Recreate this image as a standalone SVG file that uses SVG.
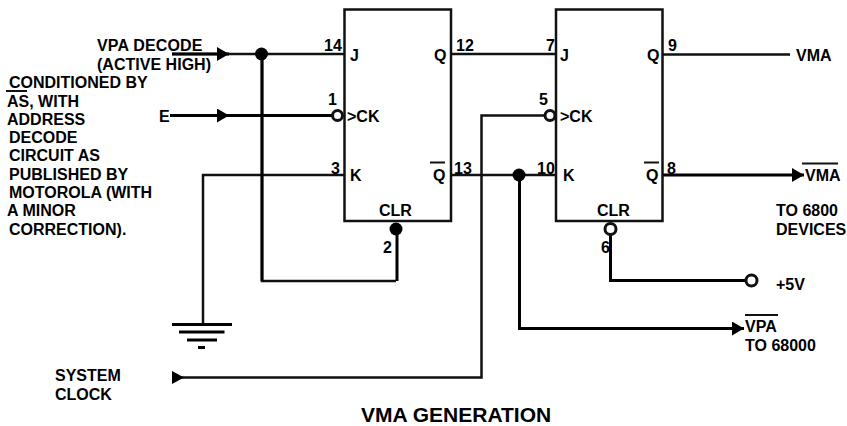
<svg xmlns="http://www.w3.org/2000/svg" width="847" height="426" viewBox="0 0 847 426">
<style>
text{font-family:"Liberation Sans",Arial,sans-serif;font-weight:700;font-size:16px;fill:#000}
.w{fill:none;stroke:#111;stroke-width:2.5}
.t{fill:none;stroke:#000;stroke-width:3}
.b{fill:#fff;stroke:#111;stroke-width:3}
.d{fill:#000}
.o{stroke:#111;stroke-width:2;fill:none}
</style>
<defs><marker id="a" markerUnits="userSpaceOnUse" markerWidth="13" markerHeight="14" refX="12" refY="7" orient="auto"><path d="M0 0L12 7L0 14Z" fill="#000"/></marker></defs>
<g id="connectors">
<path class="w" d="M172 54H344M451 54H556M663 54.500H790M203 324V175H344M451 175H556M262 54V281H396"/>
<path class="t" d="M172 54H229" marker-end="url(#a)"/>
<path class="t" d="M170 115.500H229" marker-end="url(#a)"/>
<path class="t" d="M229 115.500H333"/>
<path class="t" d="M262 54V281M397 281V232"/>
<path class="w" d="M172 377.500H481.500V115.500H545"/>
<path class="t" d="M519.500 175V328.500H744" marker-end="url(#a)"/>
<path class="t" d="M663 175H804" marker-end="url(#a)"/>
<path class="t" d="M610.500 234V280.500H747"/>
</g>
<g id="ff1"><rect class="w" x="344.500" y="9.500" width="106.500" height="211.500"/>
<text x="350" y="61">J</text><text x="434" y="61">Q</text><text x="347" y="122">&gt;CK</text><text x="350" y="181">K</text><text x="433" y="181">Q</text><path class="o" d="M430 162.500H445"/><text x="379" y="216">CLR</text>
<text x="324" y="51">14</text><text x="328" y="105">1</text><text x="331" y="174">3</text><text x="456" y="51">12</text><text x="454" y="174">13</text><text x="383" y="253">2</text></g>
<g id="ff2"><rect class="w" x="556" y="9.500" width="106.500" height="211.500"/>
<text x="560" y="61">J</text><text x="647" y="61">Q</text><text x="560" y="122">&gt;CK</text><text x="563" y="181">K</text><text x="646" y="181">Q</text><path class="o" d="M644 162.500H659"/><text x="597" y="216">CLR</text>
<text x="546" y="51">7</text><text x="539" y="105">5</text><text x="537" y="174">10</text><text x="668" y="51">9</text><text x="667" y="174">8</text><text x="601" y="253">6</text></g>
<g id="bubbles"><circle class="b" cx="337.500" cy="115.500" r="5"/><circle class="b" cx="550" cy="115.500" r="5"/><circle class="b" cx="610.500" cy="229" r="5.500"/><circle class="b" cx="751.500" cy="280.500" r="5.500"/></g>
<g id="junctions"><circle class="d" cx="261.500" cy="54" r="6.500"/><circle class="d" cx="519" cy="175" r="6.500"/><circle class="d" cx="396" cy="229" r="6.500"/></g>
<g id="ground"><path class="t" d="M172 324.500H232M179 332H224.500M187 340H217M198 347.500H205"/></g>
<path id="clock-arrow" class="d" d="M172 371L184 377.500L172 384Z"/>
<g id="labels">
<text x="97" y="51" textLength="105.500">VPA DECODE</text><text x="97" y="70" textLength="114">(ACTIVE HIGH)</text>
<text x="9" y="88">CONDITIONED BY</text><text x="7" y="106.500">AS, WITH</text><path class="o" d="M6 91H27"/>
<text x="7" y="125">ADDRESS</text><text x="9" y="143">DECODE</text><text x="9" y="161">CIRCUIT AS</text><text x="9" y="179.500">PUBLISHED BY</text><text x="9" y="197.500">MOTOROLA (WITH</text><text x="7" y="216">A MINOR</text><text x="9" y="235">CORRECTION).</text>
<text x="159" y="122">E</text>
<text x="796" y="61">VMA</text><text x="805" y="181">VMA</text><path class="o" d="M802 163.500H838"/>
<text x="776" y="216">TO 6800</text><text x="776" y="235">DEVICES</text><text x="776" y="290">+5V</text>
<text x="745" y="332">VPA</text><path class="o" d="M745 315H778"/><text x="745" y="351">TO 68000</text>
<text x="55" y="381">SYSTEM</text><text x="55" y="400">CLOCK</text>
<text x="361" y="422" style="font-size:21px">VMA GENERATION</text>
</g>
</svg>
